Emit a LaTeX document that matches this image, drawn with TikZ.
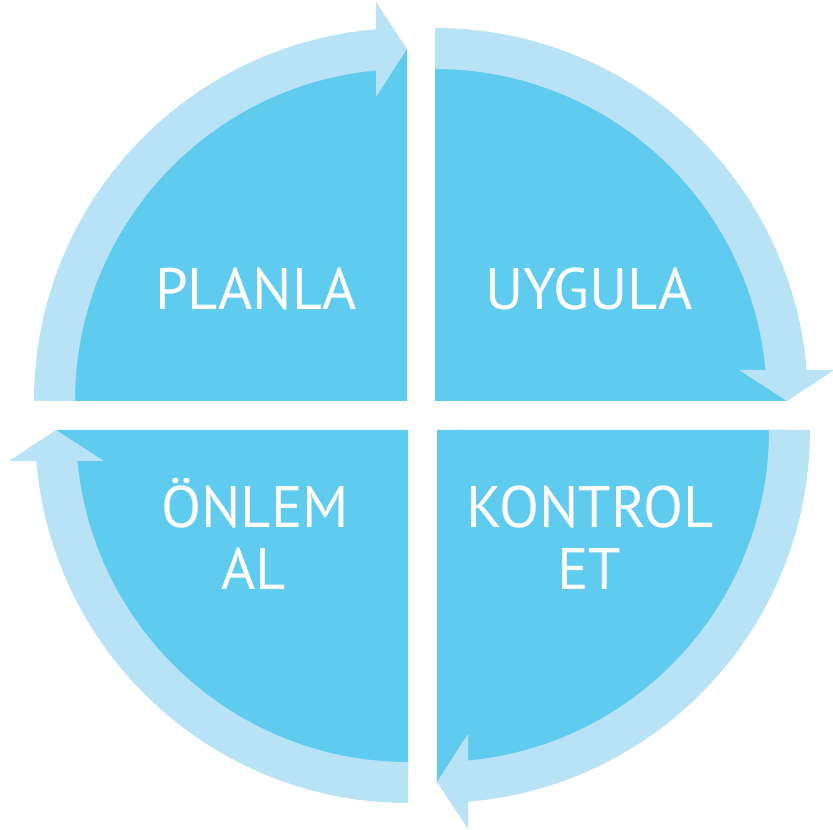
\documentclass[tikz,border=0pt]{standalone}
\usepackage{fontspec}
\setmainfont{PT Sans}
\definecolor{quadblue}{HTML}{5FCBEF}
\definecolor{ringblue}{HTML}{B8E2F5}
\begin{document}
\begin{tikzpicture}[x=1pt,y=1pt,
  quadfill/.style={fill=quadblue,draw=none},
  ringfill/.style={fill=ringblue,draw=none},
  lbl/.style={text=white,font=\fontsize{58.5}{62}\selectfont,anchor=base,inner sep=0pt}]
\useasboundingbox (0,0) rectangle (833,830);
% quadrants
\fill[quadfill] (407,429) -- ++(180:352) arc[start angle=180,end angle=90,radius=352] -- cycle;
\fill[quadfill] (435,429) -- ++(90:352) arc[start angle=90,end angle=0,radius=352] -- cycle;
\fill[quadfill] (437,400) -- ++(0:352) arc[start angle=0,end angle=-90,radius=352] -- cycle;
\fill[quadfill] (408,400) -- ++(270:352) arc[start angle=270,end angle=180,radius=352] -- cycle;
% ring arrows
\foreach \cx/\cy/\rot in {407/429/0, 435/429/-90, 437/400/-180, 408/400/90}{
  \begin{scope}[shift={(\cx,\cy)},rotate=\rot]
    \fill[ringfill] (-373,0) arc[start angle=180,end angle=94.77,radius=373]
      -- (-31,399) -- (0,352) -- (-31,304) -- (-31,330.55)
      arc[start angle=95.36,end angle=180,radius=332] -- cycle;
  \end{scope}
}
% labels
\node[lbl] (planla) at (256,520) {PLANLA};
\node[lbl] (uygula) at (589,520) {UYGULA};
\node[lbl] (onlem1) at (255,302) {ÖNLEM};
\node[lbl] (onlem2) at (254,240) {AL};
\node[lbl] (kontrol1) at (590,302) {KONTROL};
\node[lbl] (kontrol2) at (589,240) {ET};
\end{tikzpicture}
\end{document}
